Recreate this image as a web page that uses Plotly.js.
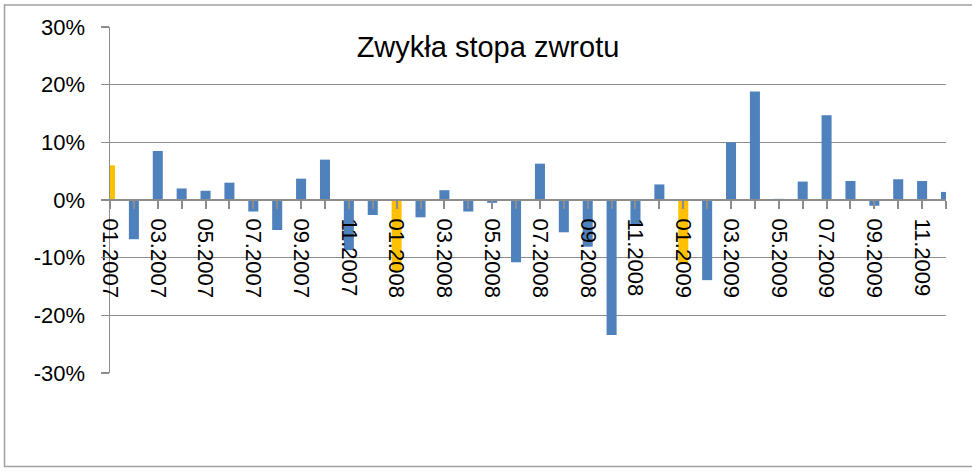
<!DOCTYPE html>
<html>
<head>
<meta charset="utf-8">
<script src="https://cdn.plot.ly/plotly-3.0.1.min.js"></script>
<style>
html,body{margin:0;padding:0;background:#fff;}
#chart{width:972px;height:471px;}
</style>
</head>
<body>
<div id="chart"></div>
<script>
const chartTitle = 'Zwykła stopa zwrotu';
const months = ['01.2007','02.2007','03.2007','04.2007','05.2007','06.2007','07.2007','08.2007','09.2007','10.2007','11.2007','12.2007',
                '01.2008','02.2008','03.2008','04.2008','05.2008','06.2008','07.2008','08.2008','09.2008','10.2008','11.2008','12.2008',
                '01.2009','02.2009','03.2009','04.2009','05.2009','06.2009','07.2009','08.2009','09.2009','10.2009','11.2009','12.2009'];
const returnsPct = [6.0, -6.8, 8.5, 2.0, 1.6, 3.0, -2.0, -5.2, 3.7, 7.0, -8.7, -2.6,
                    -12.4, -3.0, 1.7, -2.0, -0.5, -10.8, 6.3, -5.6, -8.1, -23.4, -4.5, 2.7,
                    -10.9, -13.9, 10.0, 18.8, 0.2, 3.2, 14.7, 3.3, -1.0, 3.6, 3.3, 1.4];
const yTickVals = [-30, -20, -10, 0, 10, 20, 30];
const yTickText = ['-30%', '-20%', '-10%', '0%', '10%', '20%', '30%'];

const BLUE = '#4F81BD', GOLD = '#FFC000', GRID = '#8C8C8C';
const colors = months.map(m => m.startsWith('01.') ? GOLD : BLUE);
const xTickText = months.map((m, i) => i % 2 === 0 ? m : '');

const FONT = 'Liberation Sans, Arial, sans-serif';

const trace = {
  type: 'bar',
  x: months,
  y: returnsPct,
  marker: {color: colors, line: {width: 0}},
  width: 0.42,
  hoverinfo: 'x+y'
};

// plot area: x 110..946, y 27..373
const L = 110, R = 26, T = 27, B = 98, W = 972, H = 471;
const pw = W - L - R, ph = H - T - B;
const px = v => (v - L) / pw;
const py = v => (H - B - v) / ph;

const layout = {
  width: W, height: H,
  margin: {l: L, r: R, t: T, b: B, pad: 0},
  paper_bgcolor: '#fff', plot_bgcolor: '#fff',
  showlegend: false,
  font: {family: FONT, color: '#000', size: 22},
  title: {
    text: chartTitle,
    font: {family: FONT, size: 29, color: '#000'},
    xref: 'container', x: 488 / W, xanchor: 'center',
    yref: 'container', y: 1 - 47 / H, yanchor: 'middle'
  },
  xaxis: {
    type: 'category',
    range: [0, 35],
    anchor: 'free', position: 0.5,
    showgrid: false, zeroline: false,
    showline: true, linecolor: GRID, linewidth: 2,
    ticks: 'outside', ticklen: 8, tickwidth: 2, tickcolor: GRID,
    tickvals: months, ticktext: xTickText,
    tickangle: 90,
    ticklabelstandoff: 5,
    tickfont: {family: FONT, size: 22, color: '#000'},
    fixedrange: true
  },
  yaxis: {
    range: [-30, 30],
    tickvals: yTickVals, ticktext: yTickText,
    showgrid: true, gridcolor: GRID, gridwidth: 1.5,
    zeroline: false,
    showline: true, linecolor: GRID, linewidth: 1.5,
    ticks: 'outside', ticklen: 8, tickwidth: 1.5, tickcolor: GRID,
    ticklabelstandoff: 11,
    tickfont: {family: FONT, size: 22, color: '#000'},
    fixedrange: true
  },
  shapes: [{
    type: 'rect', xref: 'paper', yref: 'paper',
    x0: px(4.5), x1: px(980), y0: py(466.5), y1: py(5),
    line: {color: '#A0A0A0', width: 1.5}, fillcolor: 'rgba(0,0,0,0)', layer: 'below'
  }]
};

Plotly.newPlot('chart', [trace], layout, {displayModeBar: false, staticPlot: true});
</script>
</body>
</html>
